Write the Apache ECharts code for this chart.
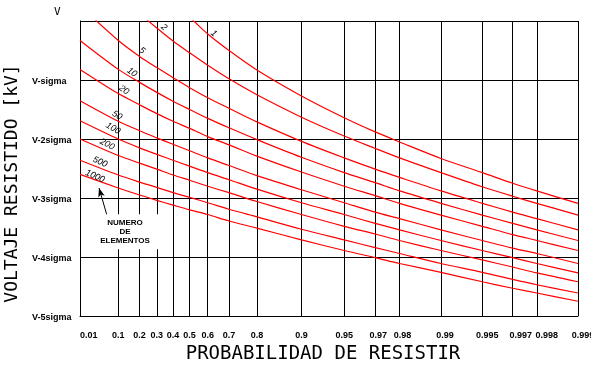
<!DOCTYPE html>
<html><head><meta charset="utf-8">
<script src="https://cdn.jsdelivr.net/npm/echarts@6/dist/echarts.min.js"></script>
<style>html,body{margin:0;padding:0;background:#fff}#c{width:591px;height:366px}</style>
</head><body><div id="c"></div>
<script>
// ---- data (probability of withstand on the x axis, voltage in sigma below V on the y axis)
const probTicks  = [0.01, 0.1, 0.2, 0.3, 0.4, 0.5, 0.6, 0.7, 0.8, 0.9, 0.95, 0.97, 0.98, 0.99, 0.995, 0.997, 0.998, 0.999];
const probLabels = ['0.01','0.1','0.2','0.3','0.4','0.5','0.6','0.7','0.8','0.9','0.95','0.97','0.98','0.99','0.995','0.997','0.998','0.999'];
const yLabels = ['V', 'V-sigma', 'V-2sigma', 'V-3sigma', 'V-4sigma', 'V-5sigma'];
const elementCounts = [1, 2, 5, 10, 20, 50, 100, 200, 500, 1000];
// curve values (sigma below V) read at each probability tick
const curve1    = [-2.33, -1.28, -0.84, -0.52, -0.25, -0.06, 0.22, 0.50, 0.83, 1.27, 1.64, 1.88, 2.05, 2.33, 2.57, 2.75, 2.88, 3.09];
const curve2    = [-1.28, -0.48, -0.13, 0.12, 0.34, 0.54, 0.75, 0.98, 1.25, 1.63, 1.95, 2.16, 2.32, 2.57, 2.81, 2.97, 3.09, 3.29];
const curve5    = [-0.26, 0.33, 0.60, 0.79, 0.96, 1.13, 1.30, 1.48, 1.71, 2.04, 2.32, 2.51, 2.65, 2.88, 3.09, 3.24, 3.35, 3.54];
const curve10   = [0.33, 0.82, 1.04, 1.21, 1.36, 1.50, 1.65, 1.81, 2.01, 2.31, 2.57, 2.74, 2.88, 3.09, 3.29, 3.43, 3.54, 3.72];
const curve20   = [0.82, 1.23, 1.42, 1.57, 1.70, 1.82, 1.96, 2.10, 2.29, 2.56, 2.80, 2.96, 3.09, 3.29, 3.48, 3.62, 3.72, 3.89];
const curve50   = [1.35, 1.70, 1.86, 1.98, 2.09, 2.20, 2.32, 2.45, 2.62, 2.86, 3.08, 3.24, 3.35, 3.54, 3.72, 3.85, 3.94, 4.11];
const curve100  = [1.69, 2.00, 2.15, 2.26, 2.36, 2.46, 2.57, 2.69, 2.85, 3.08, 3.28, 3.43, 3.54, 3.72, 3.89, 4.01, 4.11, 4.27];
const curve200  = [2.00, 2.28, 2.41, 2.51, 2.61, 2.70, 2.80, 2.91, 3.06, 3.28, 3.48, 3.61, 3.72, 3.89, 4.05, 4.17, 4.27, 4.42];
const curve500  = [2.36, 2.61, 2.73, 2.82, 2.91, 2.99, 3.08, 3.19, 3.32, 3.53, 3.71, 3.84, 3.94, 4.11, 4.26, 4.38, 4.47, 4.61];
const curve1000 = [2.60, 2.83, 2.95, 3.04, 3.12, 3.20, 3.28, 3.39, 3.51, 3.71, 3.89, 4.01, 4.11, 4.26, 4.42, 4.53, 4.61, 4.75];
const curves = [curve1, curve2, curve5, curve10, curve20, curve50, curve100, curve200, curve500, curve1000];

// ---- layout / styling
const gumbel = p => -Math.log(-Math.log(p));        // extreme-value probability paper
const X_MIN = gumbel(0.0124);                        // left frame of the paper (labelled 0.01)
const X_MAX = gumbel(0.999);
const tickVals = probTicks.map(p => Math.max(gumbel(p), X_MIN));
// horizontal nudge (px) of each bottom label, as printed on the original paper
const labelNudge = [0, 0, 0, 0, 0, 0, 0, 0, 0, 0, 0, 3, 3, 4, 5, 8, 10, 5];
// curve label placement: [probability, sigma, rotation]
const labelPlace = [
  [0.631, 0.21, -40], [0.344, 0.11, -40], [0.213, 0.50, -38], [0.161, 0.87, -36], [0.123, 1.17, -35],
  [0.095, 1.60, -31], [0.081, 1.82, -30], [0.062, 2.09, -28], [0.0436, 2.39, -24], [0.0331, 2.63, -24]
];
const smallFont = 'Liberation Sans, Arial, sans-serif';
const titleFont = 'DejaVu Sans Mono, monospace';

const series = curves.map((vals, i) => ({
  type: 'line',
  name: String(elementCounts[i]),
  data: vals.map((s, j) => [tickVals[j], s]),
  showSymbol: false,
  smooth: 0.3,
  clip: true,
  silent: true,
  lineStyle: { color: '#ff0000', width: 1.2 },
  markPoint: {
    silent: true,
    symbol: 'circle',
    symbolSize: 0,
    data: [{
      coord: [gumbel(labelPlace[i][0]), labelPlace[i][1]],
      label: {
        show: true, formatter: String(elementCounts[i]), position: 'inside',
        rotate: labelPlace[i][2], color: '#000', fontSize: 9, fontStyle: 'italic',
        fontFamily: smallFont
      }
    }]
  }
}));

series.push({
  type: 'line',
  data: [],
  silent: true,
  markPoint: {
    silent: true,
    symbol: 'circle',
    symbolSize: 0,
    data: [{
      coord: [gumbel(0.128), 3.574],
      label: {
        show: true, position: 'inside', formatter: 'NUMERO\nDE\nELEMENTOS',
        backgroundColor: '#fff', padding: [4, 9, 4, 9], lineHeight: 9,
        fontSize: 8, fontWeight: 'bold', color: '#000', align: 'center', fontFamily: smallFont
      }
    }]
  },
  markLine: {
    silent: true,
    symbol: ['none', 'arrow'],
    symbolSize: [5, 9],
    lineStyle: { color: '#000', width: 1, type: 'solid' },
    label: { show: false },
    data: [[{ coord: [gumbel(0.0618), 3.30] }, { coord: [gumbel(0.0413), 2.83] }]]
  }
});

const xRich = {};
labelNudge.forEach((d, k) => { xRich['n' + k] = { padding: [0, 0, 0, 2 * d] }; });

const chart = echarts.init(document.getElementById('c'), null, { renderer: 'canvas' });
chart.setOption({
  animation: false,
  backgroundColor: '#fff',
  grid: { left: 80, right: 13, top: 21, bottom: 50, containLabel: false, outerBoundsMode: 'none' },
  xAxis: {
    type: 'value', min: X_MIN, max: X_MAX,
    name: 'PROBABILIDAD DE RESISTIR', nameLocation: 'middle', nameGap: 28,
    nameTextStyle: { fontFamily: titleFont, fontSize: 19, color: '#000', padding: [0, 12, 0, 0] },
    axisLine: { show: true, onZero: false, lineStyle: { color: '#000', width: 1 } },
    axisTick: { show: false, customValues: tickVals },
    axisLabel: {
      customValues: tickVals, margin: 15, color: '#000', fontSize: 9, fontWeight: 'bold', fontFamily: smallFont,
      alignMinLabel: 'left',
      formatter: v => {
        const k = tickVals.findIndex(t => Math.abs(t - v) < 1e-6);
        if (k < 0) return '';
        return labelNudge[k] ? '{n' + k + '|' + probLabels[k] + '}' : probLabels[k];
      },
      rich: xRich
    },
    splitLine: { show: true, lineStyle: { color: '#000', width: 1 } }
  },
  yAxis: {
    type: 'value', inverse: true, min: 0, max: 5, interval: 1,
    name: 'VOLTAJE RESISTIDO [kV]', nameLocation: 'middle', nameGap: 48, nameRotate: 90,
    nameTextStyle: { fontFamily: titleFont, fontSize: 18, color: '#000', padding: [0, 30, 0, 0] },
    axisLine: { show: true, onZero: false, lineStyle: { color: '#000', width: 1 } },
    axisTick: { show: false },
    axisLabel: {
      align: 'left', margin: 48, color: '#000', fontSize: 9, fontWeight: 'bold', fontFamily: smallFont,
      padding: [3, 0, 0, 0],
      formatter: v => v === 0 ? '{top|' + yLabels[0] + '}' : yLabels[Math.round(v)],
      rich: { top: { fontSize: 11, fontWeight: 'normal', fontFamily: titleFont, color: '#000', padding: [0, 0, 20, 22] } }
    },
    splitLine: { show: true, lineStyle: { color: '#000', width: 1 } }
  },
  series: series
});
</script>
</body></html>
